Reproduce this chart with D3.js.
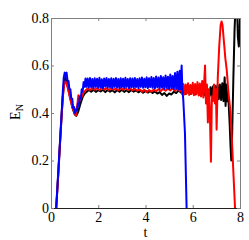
<!DOCTYPE html>
<html>
<head>
<meta charset="utf-8">
<script src="https://cdn.jsdelivr.net/npm/d3@7"></script>
<style>
  html, body { margin: 0; padding: 0; background: #fff; }
  svg { display: block; }
  text { font-family: "Liberation Serif", "Times New Roman", serif; fill: #000; }
</style>
</head>
<body>
<div id="chart"></div>
<script>
// E_N(t) curves, as [t, E_N]
const blackSeries = [
  [0.22,0],[0.30,0.13],[0.38,0.27],[0.45,0.39],[0.50,0.47],[0.55,0.525],[0.60,0.548],[0.65,0.54],
  [0.70,0.515],[0.80,0.47],[0.90,0.425],[1.00,0.395],[1.07,0.388],[1.15,0.405],[1.25,0.44],[1.35,0.47],
  [1.45,0.485],[1.5,0.488],[1.6,0.497],[1.7,0.490],[1.8,0.498],[1.9,0.489],[2.0,0.496],[2.1,0.491],
  [2.2,0.498],[2.3,0.488],[2.4,0.497],[2.5,0.490],[2.6,0.496],[2.7,0.487],[2.8,0.497],[2.9,0.490],
  [3.0,0.498],[3.1,0.489],[3.2,0.496],[3.3,0.488],[3.4,0.497],[3.5,0.490],[3.6,0.495],[3.7,0.487],
  [3.8,0.494],[3.9,0.485],[4.0,0.493],[4.1,0.486],[4.2,0.492],[4.3,0.484],[4.4,0.491],[4.5,0.482],
  [4.6,0.488],[4.7,0.476],[4.8,0.484],[4.9,0.472],[5.0,0.482],[5.1,0.478],[5.2,0.490],[5.3,0.484],
  [5.4,0.495],[5.5,0.486],[5.6,0.498],[5.7,0.480],[5.8,0.499],[5.9,0.481],[6.0,0.500],[6.1,0.478],
  [6.2,0.502],[6.3,0.477],[6.4,0.503],[6.5,0.475],[6.6,0.506],[6.7,0.472],[6.75,0.508],[6.8,0.468],
  [6.85,0.512],[6.9,0.466],[6.95,0.515],[7.0,0.462],[7.05,0.518],[7.1,0.458],[7.15,0.52],[7.2,0.455],
  [7.25,0.525],[7.3,0.45],[7.35,0.55],[7.39,0.43],[7.43,0.52],[7.47,0.45],[7.51,0.46],[7.56,0.36],
  [7.6,0.26],[7.63,0.2],[7.67,0.32],[7.72,0.55],[7.77,0.75],[7.81,0.85],[7.86,0.9],[7.91,0.72],
  [7.95,0.68],[7.98,0.74],[8.0,0.82]
];

const redSeries = [
  [0.22,0],[0.30,0.13],[0.38,0.27],[0.45,0.39],[0.50,0.465],[0.55,0.515],[0.60,0.533],[0.65,0.528],
  [0.70,0.51],[0.80,0.465],[0.90,0.425],[1.00,0.398],[1.06,0.39],[1.12,0.44],[1.16,0.475],[1.20,0.45],
  [1.28,0.465],[1.38,0.485],[1.48,0.497],[1.55,0.503],[1.65,0.497],[1.75,0.505],[1.85,0.498],[1.95,0.504],
  [2.05,0.497],[2.15,0.506],[2.25,0.499],[2.35,0.504],[2.45,0.497],[2.55,0.505],[2.65,0.498],[2.75,0.503],
  [2.85,0.496],[2.95,0.505],[3.05,0.498],[3.15,0.504],[3.25,0.497],[3.35,0.503],[3.45,0.496],[3.55,0.502],
  [3.65,0.494],[3.75,0.500],[3.85,0.490],[3.95,0.498],[4.05,0.488],[4.15,0.497],[4.25,0.490],[4.35,0.499],
  [4.45,0.492],[4.55,0.500],[4.65,0.493],[4.75,0.502],[4.85,0.494],[4.95,0.503],[5.05,0.495],[5.15,0.504],
  [5.25,0.493],[5.35,0.505],[5.45,0.492],[5.50,0.515],[5.55,0.48],[5.60,0.522],[5.65,0.478],[5.70,0.52],
  [5.75,0.482],[5.80,0.525],[5.85,0.476],[5.90,0.518],[5.95,0.48],[6.00,0.527],[6.05,0.475],[6.10,0.522],
  [6.15,0.479],[6.20,0.53],[6.25,0.474],[6.30,0.524],[6.35,0.47],[6.40,0.535],[6.45,0.465],[6.52,0.60],
  [6.56,0.44],[6.60,0.52],[6.64,0.36],[6.68,0.50],[6.72,0.42],[6.77,0.195],[6.81,0.47],[6.86,0.45],
  [6.90,0.52],[6.94,0.44],[6.98,0.50],[7.01,0.33],[7.06,0.55],[7.12,0.68],[7.18,0.77],[7.22,0.785],
  [7.26,0.77],[7.32,0.70],[7.38,0.63],[7.44,0.58],[7.50,0.50],[7.56,0.44],[7.60,0.40],[7.66,0.28],
  [7.72,0.15],[7.79,0]
];

const blueSeries = [
  [0.22,0],[0.30,0.14],[0.38,0.28],[0.45,0.40],[0.50,0.49],[0.54,0.55],[0.58,0.57],[0.62,0.555],
  [0.66,0.57],[0.70,0.535],[0.74,0.535],[0.78,0.50],[0.82,0.50],[0.86,0.46],[0.90,0.46],[0.94,0.42],
  [0.98,0.425],[1.02,0.40],[1.06,0.415],[1.10,0.41],[1.14,0.44],[1.18,0.43],[1.22,0.47],[1.26,0.46],
  [1.30,0.50],[1.34,0.49],[1.38,0.53],[1.42,0.51],[1.46,0.545],[1.50,0.510],[1.55,0.545],[1.60,0.507],
  [1.65,0.547],[1.70,0.509],[1.75,0.543],[1.80,0.505],[1.85,0.546],[1.90,0.510],[1.95,0.544],[2.00,0.506],
  [2.05,0.548],[2.10,0.508],[2.15,0.542],[2.20,0.505],[2.25,0.545],[2.30,0.511],[2.35,0.547],[2.40,0.506],
  [2.45,0.543],[2.50,0.509],[2.55,0.546],[2.60,0.505],[2.65,0.544],[2.70,0.510],[2.75,0.547],[2.80,0.507],
  [2.85,0.543],[2.90,0.505],[2.95,0.546],[3.00,0.509],[3.05,0.544],[3.10,0.506],[3.15,0.548],[3.20,0.510],
  [3.25,0.543],[3.30,0.505],[3.35,0.546],[3.40,0.508],[3.45,0.545],[3.50,0.506],[3.55,0.547],[3.60,0.509],
  [3.65,0.543],[3.70,0.505],[3.75,0.546],[3.80,0.510],[3.85,0.549],[3.90,0.506],[3.95,0.544],[4.00,0.508],
  [4.05,0.550],[4.10,0.505],[4.15,0.546],[4.20,0.509],[4.25,0.552],[4.30,0.506],[4.35,0.547],[4.40,0.504],
  [4.45,0.554],[4.50,0.508],[4.55,0.549],[4.60,0.503],[4.65,0.556],[4.70,0.507],[4.75,0.551],[4.80,0.502],
  [4.85,0.558],[4.90,0.506],[4.95,0.553],[5.00,0.501],[5.05,0.562],[5.10,0.505],[5.15,0.556],[5.20,0.500],
  [5.25,0.568],[5.30,0.503],[5.35,0.574],[5.40,0.499],[5.45,0.578],[5.48,0.50],[5.53,0.60],[5.56,0.50],
  [5.60,0.455],[5.67,0.316],[5.74,0]
];

const xTicks = [0, 2, 4, 6, 8];
const yTicks = [0, 0.2, 0.4, 0.6, 0.8];

const W = 249, H = 240;
const mLeft = 51, mRight = 240, mTop = 18, mBottom = 208;

const x = d3.scaleLinear().domain([0, 8]).range([mLeft, mRight]);
const y = d3.scaleLinear().domain([0, 0.8]).range([mBottom, mTop]);

const svg = d3.select('#chart').append('svg')
  .attr('width', W).attr('height', H);

svg.append('defs').append('clipPath').attr('id', 'plot')
  .append('rect')
  .attr('x', mLeft).attr('y', mTop)
  .attr('width', mRight - mLeft).attr('height', mBottom - mTop);

const line = d3.line().x(d => x(d[0])).y(d => y(d[1]));

const curves = svg.append('g').attr('clip-path', 'url(#plot)');
[
  { data: blackSeries, color: '#000000', w: 2 },
  { data: redSeries, color: '#ff0000', w: 2 },
  { data: blueSeries, color: '#0000ff', w: 2 }
].forEach(s => {
  curves.append('path')
    .attr('d', line(s.data))
    .attr('fill', 'none')
    .attr('stroke', s.color)
    .attr('stroke-width', s.w)
    .attr('stroke-linejoin', 'round');
});

// box + inward ticks
const gray = '#7f7f7f';
const axB = svg.append('g').attr('transform', `translate(0,${mBottom})`)
  .call(d3.axisBottom(x).tickValues(xTicks).tickSize(-3).tickPadding(4).tickFormat(d3.format('d')));
const axL = svg.append('g').attr('transform', `translate(${mLeft},0)`)
  .call(d3.axisLeft(y).tickValues(yTicks).tickSize(-3).tickPadding(2).tickFormat(d => d === 0 ? '0' : d3.format('.1f')(d)));
const axT = svg.append('g').attr('transform', `translate(0,${mTop})`)
  .call(d3.axisTop(x).tickValues(xTicks).tickSize(-3).tickFormat(''));
const axR = svg.append('g').attr('transform', `translate(${mRight},0)`)
  .call(d3.axisRight(y).tickValues(yTicks).tickSize(-3).tickFormat(''));

[axB, axL, axT, axR].forEach(g => {
  g.selectAll('.domain').attr('stroke', gray);
  g.selectAll('.tick line').attr('stroke', gray);
  g.selectAll('text')
    .style('font-family', '"Liberation Serif", "Times New Roman", serif')
    .style('font-size', '14px')
    .attr('fill', '#000');
});
axB.select('.domain').attr('stroke', '#222');

svg.append('text')
  .attr('x', (mLeft + mRight) / 2).attr('y', 237)
  .attr('text-anchor', 'middle')
  .style('font-size', '14px')
  .text('t');

const yl = svg.append('text')
  .attr('transform', 'translate(20,112) rotate(-90)')
  .attr('text-anchor', 'middle')
  .style('font-size', '14px');
yl.append('tspan').text('E');
yl.append('tspan').attr('dy', 3).style('font-size', '10px').text('N');
</script>
</body>
</html>
